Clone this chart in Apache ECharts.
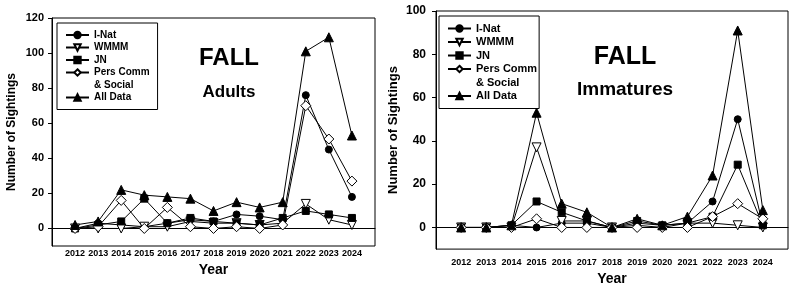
<!DOCTYPE html>
<html>
<head>
<meta charset="utf-8">
<script src="https://cdn.jsdelivr.net/npm/echarts@6/dist/echarts.min.js"></script>
<style>
  html, body { margin: 0; padding: 0; background: #fff; }
  #chart { width: 792px; height: 291px; }
</style>
</head>
<body>
<div id="chart"></div>
<script>
const years = [2012, 2013, 2014, 2015, 2016, 2017, 2018, 2019, 2020, 2021, 2022, 2023, 2024];

// Adults (left panel)
const adultsINat = [0, 3, 2, 1, 3, 5, 4, 8, 7, 5, 76, 45, 18];
const adultsWMMM = [0, 0, 0, 1, 1, 4, 3, 3, 2, 3, 14, 5, 2];
const adultsJN = [0, 2, 4, 17, 3, 6, 4, 3, 2, 6, 10, 8, 6];
const adultsPers = [0, 1, 16, 0, 12, 1, 0, 1, 0, 2, 70, 51, 27];
const adultsAll = [2, 4, 22, 19, 18, 17, 10, 15, 12, 15, 101, 109, 53];

// Immatures (right panel)
const immINat = [0, 0, 1, 0, 2, 2, 0, 2, 1, 2, 12, 50, 1];
const immWMMM = [0, 0, 0, 37, 3, 3, 0, 1, 0, 2, 2, 1, 0];
const immJN = [0, 0, 1, 12, 7, 3, 0, 3, 1, 2, 5, 29, 1];
const immPers = [0, 0, 0, 4, 0, 0, 0, 0, 0, 0, 5, 11, 4];
const immAll = [0, 0, 1, 53, 11, 7, 0, 4, 1, 5, 24, 91, 8];

const adultsTicks = [0, 20, 40, 60, 80, 100, 120];
const immTicks = [0, 20, 40, 60, 80, 100];

const FONT = 'Liberation Sans';

const markers = {
    'I-Nat': { symbol: 'circle', size: 7, fill: '#000', rotate: 0 },
    'WMMM': { symbol: 'triangle', size: 9, fill: '#fff', rotate: 180 },
    'JN': { symbol: 'rect', size: 7, fill: '#000', rotate: 0 },
    'Pers Comm': { symbol: 'diamond', size: 10, fill: '#fff', rotate: 0 },
    'All Data': { symbol: 'triangle', size: 9, fill: '#000', rotate: 0 },
};

const makeSeries = (name, values, idx) => {
    const m = markers[name];
    return {
        name: name,
        type: 'line',
        xAxisIndex: idx,
        yAxisIndex: idx,
        data: values.map((v, i) => [years[i], v]),
        symbol: m.symbol,
        symbolSize: m.size,
        symbolRotate: m.rotate,
        showAllSymbol: true,
        lineStyle: { color: '#000', width: 1 },
        itemStyle: { color: m.fill, borderColor: '#000', borderWidth: 1 },
        emphasis: { disabled: true },
        animation: false,
    };
};

// empty series that only gives the legend its "& Social" second line
const spacerSeries = (idx) => ({
    name: '& Social',
    type: 'line',
    xAxisIndex: idx,
    yAxisIndex: idx,
    data: [],
    symbol: 'circle',
    lineStyle: { opacity: 0 },
    itemStyle: { opacity: 0 },
});

const legendNames = ['I-Nat', 'WMMM', 'JN', 'Pers Comm',
    { name: '& Social', itemStyle: { opacity: 0 }, lineStyle: { opacity: 0 } }, 'All Data'];

const makeLegend = (left, top, size, lh, padRight) => ({
    orient: 'vertical',
    left: left,
    top: top,
    data: legendNames,
    itemWidth: 23,
    itemHeight: 8,
    itemGap: 0.5,
    padding: [6, padRight, 6, 8],
    borderColor: '#000',
    borderWidth: 1,
    selectedMode: false,
    textStyle: { fontFamily: FONT, fontWeight: 'bold', fontSize: size, lineHeight: lh, color: '#000' },
});

const xAxisBase = (idx, nameGap, margin) => ({
    type: 'value',
    gridIndex: idx,
    min: 2011,
    max: 2025,
    interval: 1,
    name: 'Year',
    nameLocation: 'middle',
    nameGap: nameGap,
    nameTextStyle: { fontFamily: FONT, fontWeight: 'bold', fontSize: 14, color: '#000' },
    axisLine: { lineStyle: { color: '#000', width: 1 } },
    axisTick: { show: false },
    splitLine: { show: false },
    axisLabel: {
        customValues: years,
        formatter: (v) => String(v),
        hideOverlap: false,
        margin: margin,
        fontFamily: FONT,
        fontWeight: 'bold',
        fontSize: 9,
        color: '#000',
    },
});

const yAxisBase = (idx, max, ticks, nameGap, nameSize, labelSize, margin) => ({
    type: 'value',
    gridIndex: idx,
    min: -10,
    max: max,
    interval: 10,
    name: 'Number of Sightings',
    nameLocation: 'middle',
    nameGap: nameGap,
    nameTextStyle: { fontFamily: FONT, fontWeight: 'bold', fontSize: nameSize, color: '#000' },
    axisLine: { show: true, lineStyle: { color: '#000', width: 1 } },
    axisTick: { show: true, inside: false, length: 4, customValues: ticks, lineStyle: { color: '#000' } },
    splitLine: { show: false },
    axisLabel: {
        customValues: ticks,
        margin: margin,
        fontFamily: FONT,
        fontWeight: 'bold',
        fontSize: labelSize,
        color: '#000',
    },
});

const caption = (x, y, text, size) => ({
    type: 'text',
    x: x,
    y: y,
    style: {
        text: text,
        font: 'bold ' + size + 'px "' + FONT + '"',
        fill: '#000',
        align: 'center',
        verticalAlign: 'middle',
    },
});

const chart = echarts.init(document.getElementById('chart'), null, { renderer: 'canvas' });

chart.setOption({
    animation: false,
    backgroundColor: '#fff',
    grid: [
        { left: 52, right: 417, top: 18, bottom: 45, show: true, borderColor: '#000', borderWidth: 1, containLabel: false },
        { left: 436, right: 4, top: 11, bottom: 34, show: true, borderColor: '#000', borderWidth: 1, containLabel: false },
    ],
    legend: [
        makeLegend(57, 23, 10, 12, 8),
        makeLegend(439, 16, 11, 13, 2),
    ],
    xAxis: [
        xAxisBase(0, 13, 3),
        xAxisBase(1, 20, 9),
    ],
    yAxis: [
        yAxisBase(0, 120, adultsTicks, 34, 12, 11, 8),
        yAxisBase(1, 100, immTicks, 36, 13, 12, 10),
    ],
    graphic: [
        caption(229, 58, 'FALL', 24),
        caption(229, 92, 'Adults', 17),
        caption(625, 57, 'FALL', 25),
        caption(625, 90, 'Immatures', 19),
    ],
    series: [
        makeSeries('I-Nat', adultsINat, 0),
        makeSeries('WMMM', adultsWMMM, 0),
        makeSeries('JN', adultsJN, 0),
        makeSeries('Pers Comm', adultsPers, 0),
        makeSeries('All Data', adultsAll, 0),
        spacerSeries(0),
        makeSeries('I-Nat', immINat, 1),
        makeSeries('WMMM', immWMMM, 1),
        makeSeries('JN', immJN, 1),
        makeSeries('Pers Comm', immPers, 1),
        makeSeries('All Data', immAll, 1),
        spacerSeries(1),
    ],
});

window.addEventListener('resize', () => {
    chart.resize();
});
</script>
</body>
</html>
